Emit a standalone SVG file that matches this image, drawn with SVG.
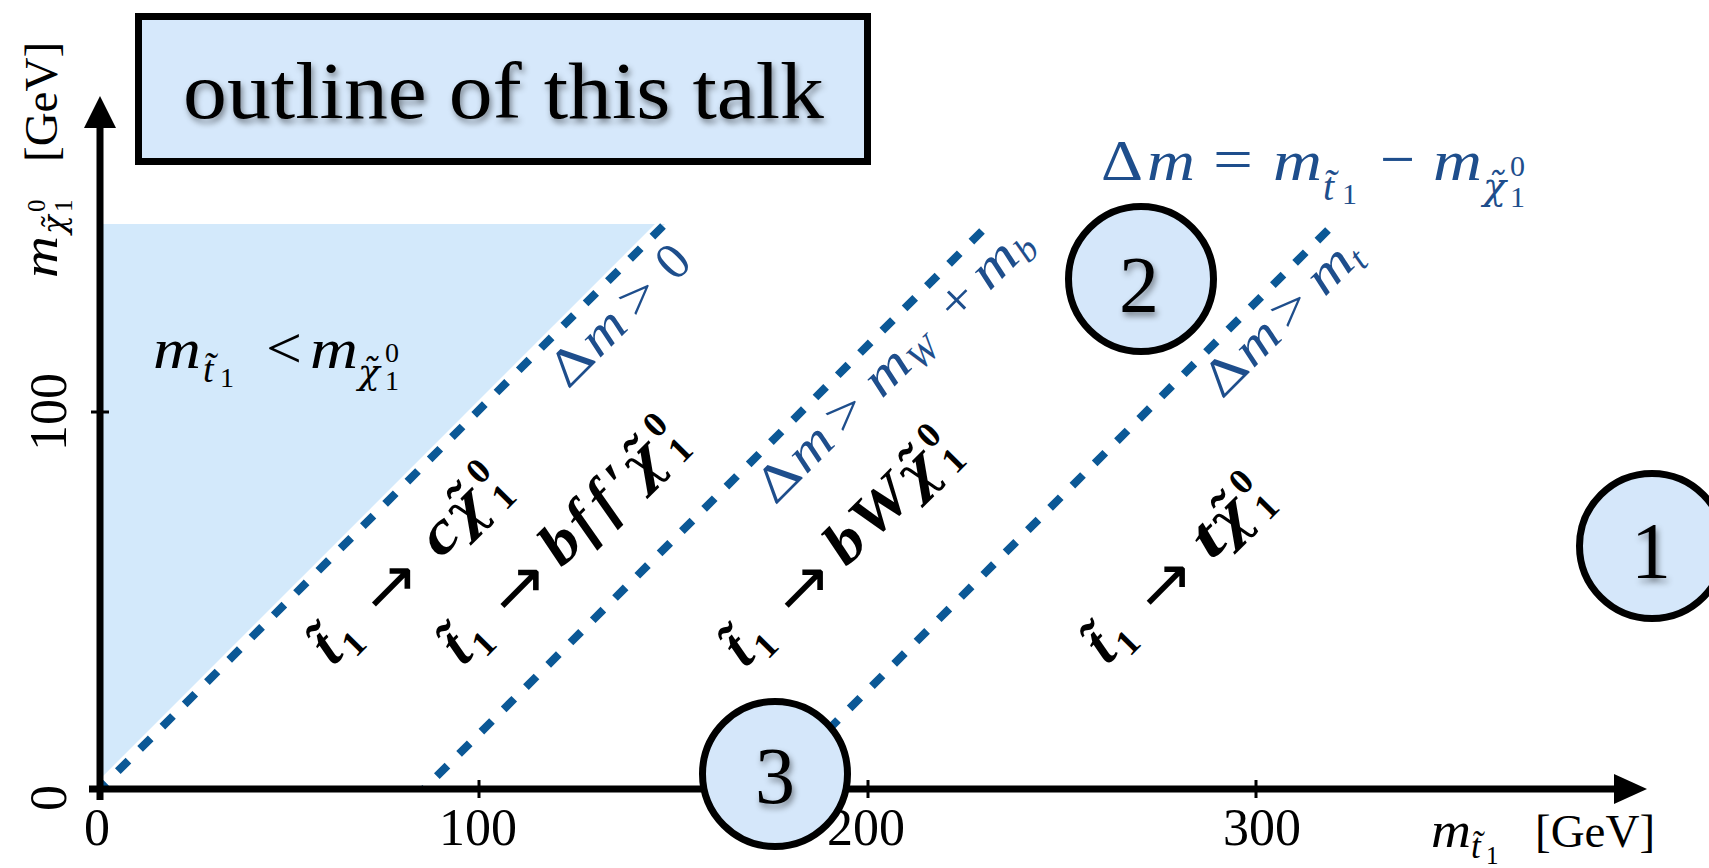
<svg xmlns="http://www.w3.org/2000/svg" width="1709" height="868" viewBox="0 0 1709 868">
<defs>
<style>
text{font-family:'Liberation Serif','DejaVu Serif',serif;}
.it{font-style:italic;}
.up{font-style:normal;}
.chi{font-family:'DejaVu Serif',serif;font-style:italic;}
.blue{fill:#1e4e8c;}
.decay{font-style:italic;font-weight:bold;font-size:60px;fill:#000;}
.dsub{font-style:normal;font-weight:bold;font-size:36px;}
.arr{font-family:'DejaVu Sans',sans-serif;font-style:normal;font-weight:normal;font-size:68px;}
.bl{font-size:52px;fill:#1e4e8c;}
.bsub{font-size:36px;}
.tick{font-size:52px;fill:#000;}
.dash{fill:none;stroke:#0b5896;stroke-width:8;stroke-dasharray:15 16.5;}
.under{fill:none;stroke:#fff;stroke-width:14;}
.ax{stroke:#000;stroke-width:7;fill:none;}
.tk{stroke:#000;stroke-width:3;}
.badge{fill:#d5e7fa;stroke:#000;stroke-width:7;}
.num{font-size:80px;fill:#000;text-anchor:middle;filter:url(#sh);}
</style>
<filter id="sh" x="-20%" y="-30%" width="140%" height="170%">
<feDropShadow dx="2" dy="4" stdDeviation="3" flood-color="#000" flood-opacity="0.45"/>
</filter>
</defs>
<rect width="1709" height="868" fill="#fff"/>

<g id="forbidden-region">
<polygon points="100,224 665,224 100,789" fill="#d3e9fb"/>
<text x="153" y="368" font-size="56" class="it"><tspan textLength="48" lengthAdjust="spacingAndGlyphs">m</tspan><tspan x="203" y="382" font-size="38">t&#x303;</tspan><tspan x="220" y="387" font-size="28" class="up">1</tspan><tspan x="266" y="368" font-size="60" class="up" textLength="36" lengthAdjust="spacingAndGlyphs">&lt;</tspan><tspan x="310" y="368" font-size="56" textLength="48" lengthAdjust="spacingAndGlyphs">m</tspan><tspan x="358" y="384" font-size="36" class="chi">&#x3C7;&#x303;</tspan><tspan x="385" y="362" font-size="28" class="up">0</tspan><tspan x="385" y="390" font-size="28" class="up">1</tspan></text>
</g>

<g id="connectors">
<line class="under" x1="100" y1="789" x2="663" y2="226"/>
<line class="dash" x1="663" y1="226" x2="100" y2="789"/>
<line class="dash" x1="982" y1="231" x2="424" y2="789"/>
<line class="dash" x1="1328" y1="230" x2="769" y2="789"/>
</g>

<g id="axes">
<line class="ax" x1="89" y1="789" x2="1616" y2="789"/>
<polygon points="1647,789 1614,774 1614,804" fill="#000"/>
<line class="ax" x1="100" y1="800" x2="100" y2="126"/>
<polygon points="100,96 84,128 116,128" fill="#000"/>
<line class="tk" x1="479" y1="780" x2="479" y2="798"/>
<line class="tk" x1="868" y1="780" x2="868" y2="798"/>
<line class="tk" x1="1256" y1="780" x2="1256" y2="798"/>
<line class="tk" x1="91" y1="412" x2="109" y2="412"/>
<text class="tick" x="97" y="845" text-anchor="middle">0</text>
<text class="tick" x="478" y="845" text-anchor="middle">100</text>
<text class="tick" x="866" y="845" text-anchor="middle">200</text>
<text class="tick" x="1262" y="845" text-anchor="middle">300</text>
<text class="tick" transform="translate(66,798) rotate(-90)" text-anchor="middle">0</text>
<text class="tick" transform="translate(66,412) rotate(-90)" text-anchor="middle">100</text>
<text x="1431" y="847" font-size="50" class="it"><tspan textLength="40" lengthAdjust="spacingAndGlyphs">m</tspan><tspan x="1471" y="858" font-size="35">t&#x303;</tspan><tspan x="1486" y="864" font-size="25" class="up">1</tspan><tspan x="1535" y="847" font-size="47" class="up">[GeV]</tspan></text>
<text transform="translate(57,278) rotate(-90)" font-size="50" class="it"><tspan textLength="42" lengthAdjust="spacingAndGlyphs">m</tspan><tspan x="44" y="8" font-size="31" class="chi">&#x3C7;&#x303;</tspan><tspan x="66" y="-12" font-size="25" class="up">0</tspan><tspan x="66" y="15" font-size="25" class="up">1</tspan><tspan x="116" y="0" font-size="47" class="up">[GeV]</tspan></text>
</g>

<g id="title">
<rect x="138.5" y="16.5" width="729" height="145" fill="#d6e8fb" stroke="#000" stroke-width="7"/>
<text x="183" y="118" font-size="80" textLength="641" lengthAdjust="spacingAndGlyphs" filter="url(#sh)">outline of this talk</text>
</g>

<g id="delta-definition">
<text x="1101" y="180" class="blue" font-size="58"><tspan textLength="42" lengthAdjust="spacingAndGlyphs">Δ</tspan><tspan x="1147" class="it" textLength="48" lengthAdjust="spacingAndGlyphs">m</tspan><tspan x="1213" font-size="62" textLength="40" lengthAdjust="spacingAndGlyphs">=</tspan><tspan x="1273" class="it" textLength="49" lengthAdjust="spacingAndGlyphs">m</tspan><tspan x="1323" y="200" font-size="40" class="it">t&#x303;</tspan><tspan x="1342" y="204" font-size="30">1</tspan><tspan x="1380" y="180" font-size="62" textLength="35" lengthAdjust="spacingAndGlyphs">−</tspan><tspan x="1433" y="180" class="it" textLength="49" lengthAdjust="spacingAndGlyphs">m</tspan><tspan x="1483" y="199" font-size="38" class="chi">&#x3C7;&#x303;</tspan><tspan x="1510" y="176" font-size="30">0</tspan><tspan x="1510" y="207" font-size="30">1</tspan></text>
</g>

<g id="threshold-labels">
<text class="bl" transform="translate(568,390) rotate(-45)"><tspan textLength="42" lengthAdjust="spacingAndGlyphs">Δ</tspan><tspan x="44" class="it" textLength="44" lengthAdjust="spacingAndGlyphs">m</tspan><tspan x="98" textLength="36" lengthAdjust="spacingAndGlyphs">&gt;</tspan><tspan x="152">0</tspan></text>
<text class="bl" transform="translate(775,506) rotate(-45)"><tspan textLength="42" lengthAdjust="spacingAndGlyphs">Δ</tspan><tspan x="44" class="it" textLength="44" lengthAdjust="spacingAndGlyphs">m</tspan><tspan x="98" textLength="36" lengthAdjust="spacingAndGlyphs">&gt;</tspan><tspan x="151" class="it" textLength="46" lengthAdjust="spacingAndGlyphs">m</tspan><tspan x="198" y="8" class="it bsub">W</tspan><tspan x="257" y="0" textLength="34" lengthAdjust="spacingAndGlyphs">+</tspan><tspan x="303" class="it" textLength="46" lengthAdjust="spacingAndGlyphs">m</tspan><tspan x="350" y="8" class="it bsub">b</tspan></text>
<text class="bl" transform="translate(1222,400) rotate(-45)"><tspan textLength="42" lengthAdjust="spacingAndGlyphs">Δ</tspan><tspan x="44" class="it" textLength="44" lengthAdjust="spacingAndGlyphs">m</tspan><tspan x="95" textLength="36" lengthAdjust="spacingAndGlyphs">&gt;</tspan><tspan x="145" class="it" textLength="46" lengthAdjust="spacingAndGlyphs">m</tspan><tspan x="191" y="8" class="it bsub">t</tspan></text>
</g>

<g id="decay-c">
<text class="decay" transform="translate(327.5,672.5) rotate(-45)"><tspan x="8" y="0">t&#x303;</tspan><tspan class="dsub" x="30" y="10">1</tspan><tspan class="arr" x="77" y="6">→</tspan><tspan x="160" y="0" textLength="33" lengthAdjust="spacingAndGlyphs">c</tspan><tspan x="194" y="0" class="chi" font-size="56">&#x3C7;&#x303;</tspan><tspan class="dsub" x="240" y="-24">0</tspan><tspan class="dsub" x="240" y="12">1</tspan></text>
</g>
<g id="decay-bffchi">
<text class="decay" transform="translate(457.5,672.5) rotate(-45)"><tspan x="8" y="0">t&#x303;</tspan><tspan class="dsub" x="30" y="10">1</tspan><tspan class="arr" x="75" y="6">→</tspan><tspan x="147" y="0" textLength="34" lengthAdjust="spacingAndGlyphs">b</tspan><tspan x="185" y="0">f</tspan><tspan x="214" y="0">f</tspan><tspan x="242" y="0">′</tspan><tspan x="260" y="0" class="chi" font-size="56">&#x3C7;&#x303;</tspan><tspan class="dsub" x="306" y="-24">0</tspan><tspan class="dsub" x="306" y="12">1</tspan></text>
</g>
<g id="decay-bw">
<text class="decay" transform="translate(739.5,674.5) rotate(-45)"><tspan x="8" y="0">t&#x303;</tspan><tspan class="dsub" x="30" y="10">1</tspan><tspan class="arr" x="78" y="6">→</tspan><tspan x="151" y="0" textLength="34" lengthAdjust="spacingAndGlyphs">b</tspan><tspan x="187" y="0" textLength="62" lengthAdjust="spacingAndGlyphs">W</tspan><tspan x="250" y="0" class="chi" font-size="56">&#x3C7;&#x303;</tspan><tspan class="dsub" x="294" y="-24">0</tspan><tspan class="dsub" x="294" y="12">1</tspan></text>
</g>
<g id="decay-t">
<text class="decay" transform="translate(1101.5,671.5) rotate(-45)"><tspan x="8" y="0">t&#x303;</tspan><tspan class="dsub" x="30" y="10">1</tspan><tspan class="arr" x="78" y="6">→</tspan><tspan x="156" y="0" textLength="24" lengthAdjust="spacingAndGlyphs">t</tspan><tspan x="180" y="0" class="chi" font-size="56">&#x3C7;&#x303;</tspan><tspan class="dsub" x="224" y="-24">0</tspan><tspan class="dsub" x="224" y="12">1</tspan></text>
</g>

<g id="badge-1">
<circle class="badge" cx="1652" cy="546" r="72.5"/>
<text class="num" x="1651" y="578">1</text>
</g>
<g id="badge-2">
<circle class="badge" cx="1141" cy="279" r="72.5"/>
<text class="num" x="1139" y="312">2</text>
</g>
<g id="badge-3">
<circle class="badge" cx="775" cy="774" r="72.5"/>
<text class="num" x="775" y="803">3</text>
</g>
</svg>
